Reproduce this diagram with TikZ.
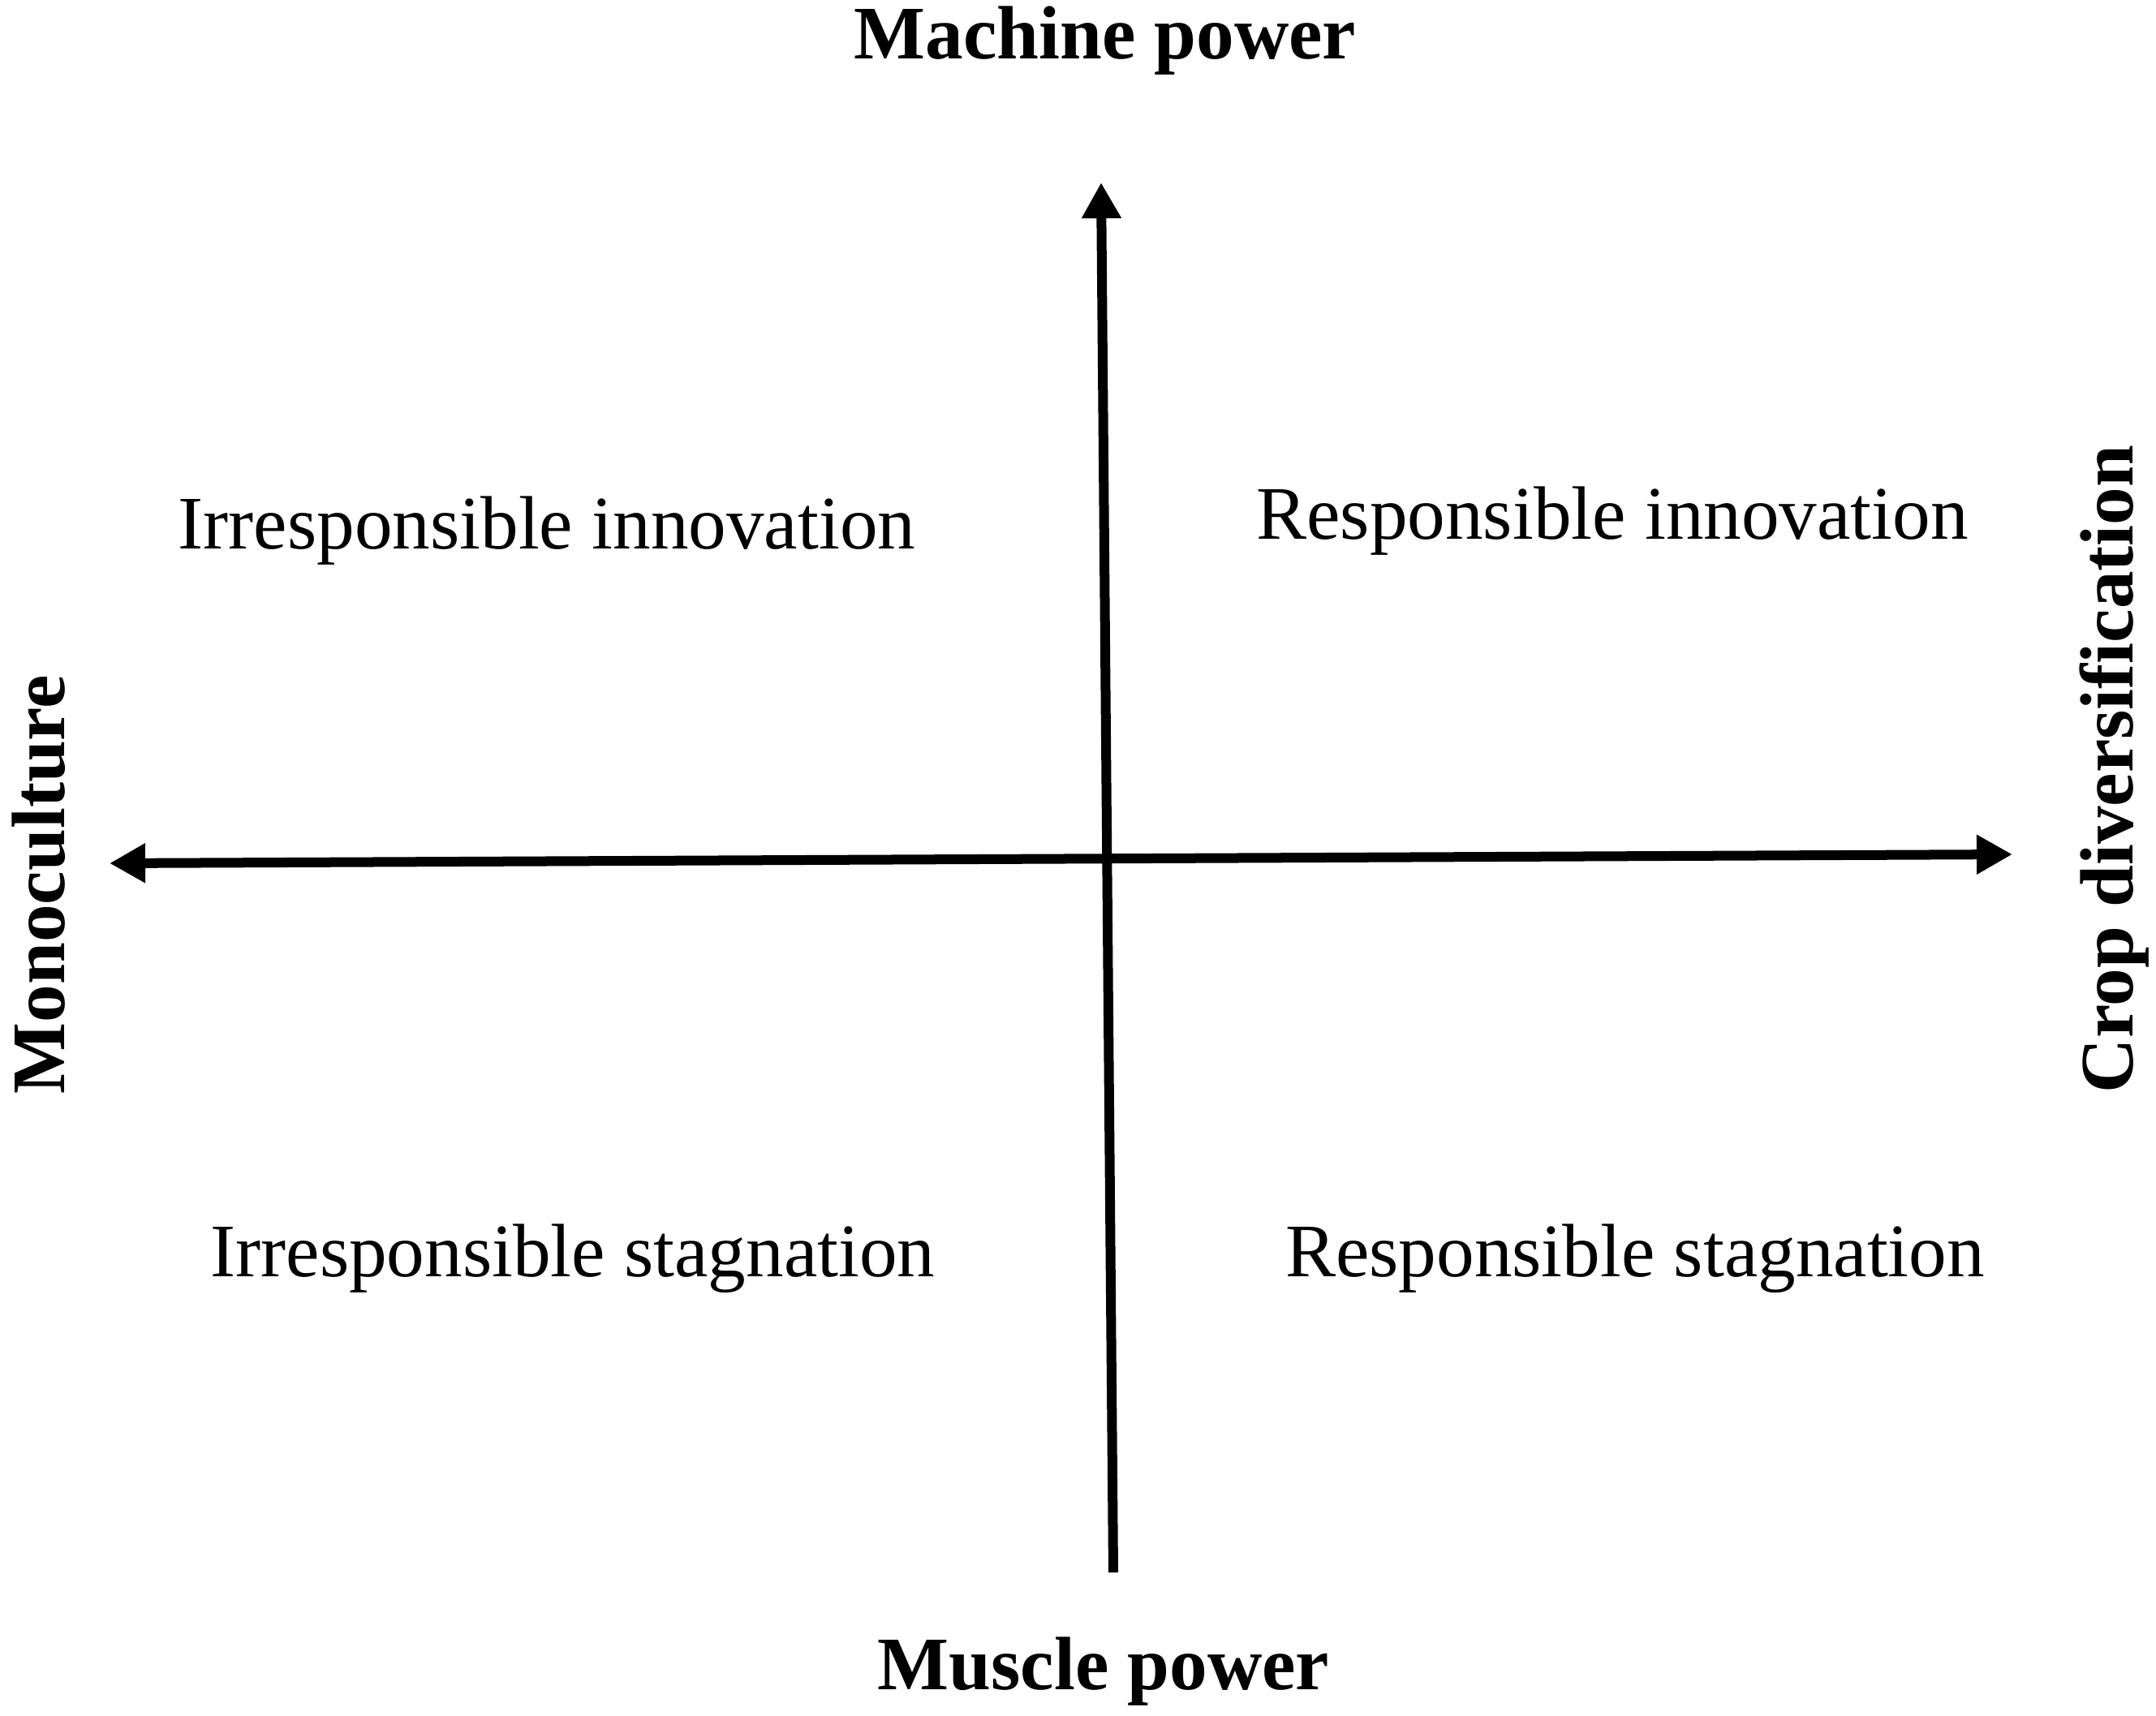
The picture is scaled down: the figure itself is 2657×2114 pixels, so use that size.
\documentclass[tikz,border=0pt]{standalone}
\usepackage{fontspec}
\setmainfont[Ligatures=NoCommon]{Liberation Serif}
\usetikzlibrary{arrows.meta}

\begin{document}
\begin{tikzpicture}[x=0.01cm, y=-0.01cm,
            inner sep=0pt,
            every node/.style={font=\fontsize{26.5pt}{30pt}\selectfont, anchor=base},
            axislabel/.style={font=\fontsize{26.5pt}{30pt}\selectfont\bfseries},
            axis/.style={line width=0.12cm, -{Triangle[length=0.44cm, width=0.46cm]}},
            ]

            \useasboundingbox (0,0) rectangle (2657,2114);

            % ends of the two axes
            \coordinate (top) at (1357,225);
            \coordinate (bottom) at (1372,1938);
            \coordinate (left) at (135,1064);
            \coordinate (right) at (2480,1053);

            \draw[axis] (bottom) -- (top);
            \draw[axis, {Triangle[length=0.44cm, width=0.46cm]}-{Triangle[length=0.44cm, width=0.46cm]}] (left) -- (right);

            \node[axislabel] (machine) at (1362,72) {Machine power};
            \node[axislabel] (muscle) at (1360,2082) {Muscle power};
            \node[axislabel, rotate=90] (mono) at (80,1090) {Monoculture};
            \node[axislabel, rotate=90] (crop) at (2628,948) {Crop diversification};

            \node (irrinno) at (674,676) {Irresponsible innovation};
            \node (resinno) at (1987,664) {Responsible innovation};
            \node (irrstag) at (706,1573) {Irresponsible stagnation};
            \node (resstag) at (2015,1573) {Responsible stagnation};
        \end{tikzpicture}
\end{document}
